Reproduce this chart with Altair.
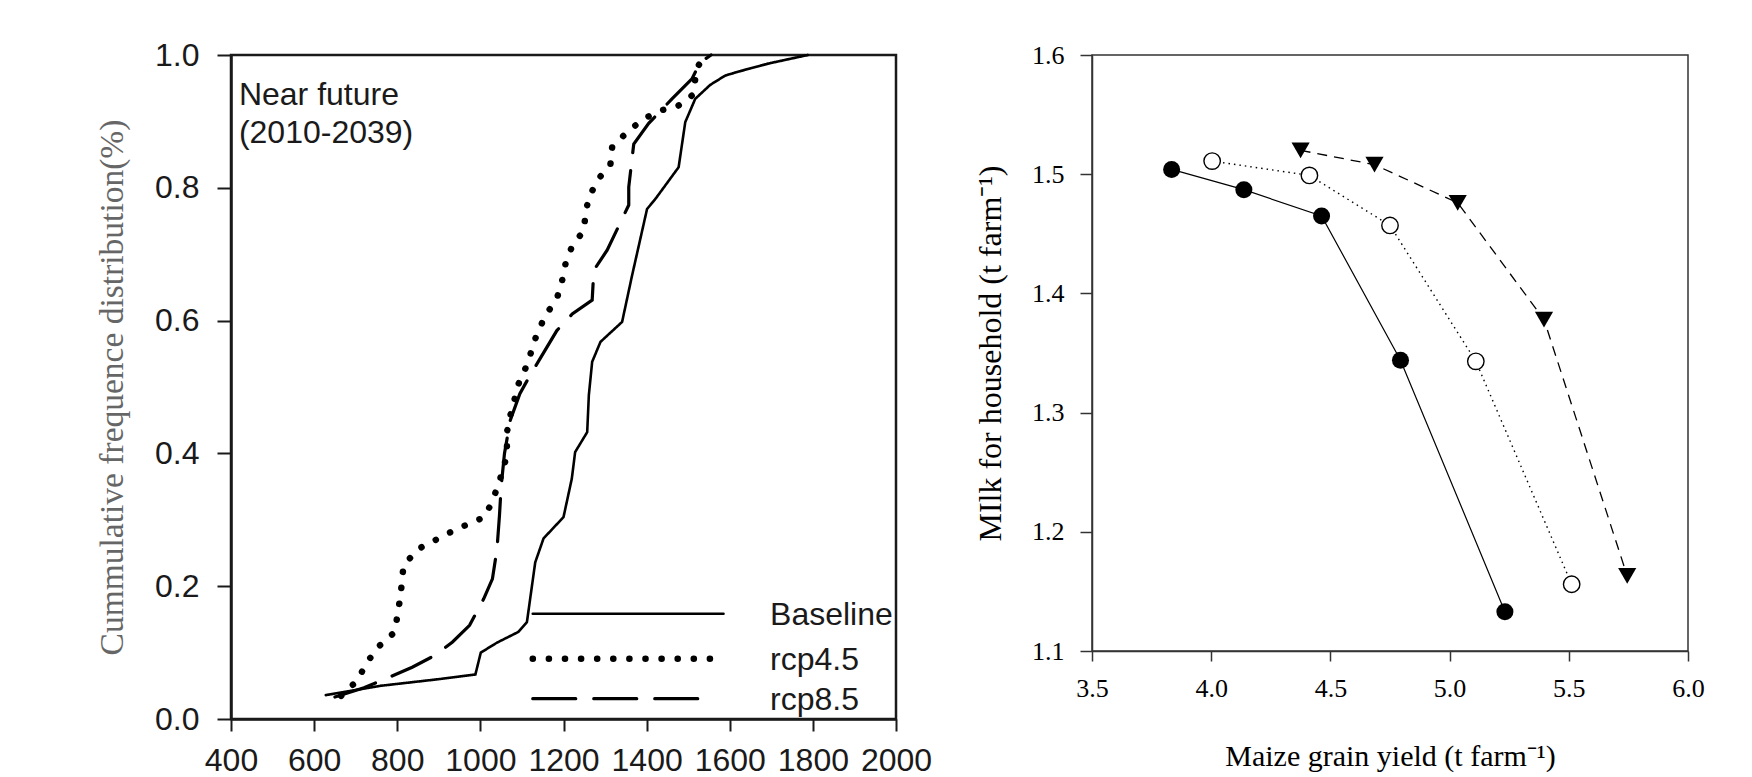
import altair as alt
import pandas as pd

# ---------------- Left panel: cumulative frequency distribution ----------------
series_names = ["Baseline", "rcp4.5", "rcp8.5"]

base_x = [628, 760, 900, 988, 1001, 1040, 1091, 1112, 1132, 1152, 1200, 1220, 1228,
          1257, 1261, 1269, 1289, 1341, 1365, 1401, 1422, 1477, 1493, 1517, 1553,
          1589, 1621, 1692, 1788]
base_y = [0.036, 0.050, 0.060, 0.067, 0.100, 0.115, 0.131, 0.146, 0.236, 0.272, 0.304,
          0.362, 0.402, 0.432, 0.488, 0.538, 0.568, 0.598, 0.668, 0.768, 0.784, 0.831,
          0.899, 0.934, 0.955, 0.969, 0.975, 0.987, 1.0]

r45_x = [665, 704, 725, 753, 794, 808, 815, 850, 930, 972, 1010, 1028, 1044, 1064, 1064,
         1072, 1092, 1112, 1136, 1157, 1184, 1196, 1205, 1220, 1249, 1253, 1261, 1285,
         1313, 1317, 1353, 1393, 1437, 1477, 1509, 1516, 1521, 1532, 1548]
r45_y = [0.035, 0.058, 0.083, 0.108, 0.131, 0.186, 0.231, 0.256, 0.282, 0.294, 0.304,
         0.327, 0.354, 0.397, 0.432, 0.457, 0.505, 0.533, 0.580, 0.608, 0.633, 0.658,
         0.686, 0.711, 0.736, 0.761, 0.786, 0.814, 0.836, 0.861, 0.884, 0.904, 0.917,
         0.924, 0.939, 0.960, 0.980, 0.992, 1.0]

r85_x = [650, 720, 781, 836, 891, 933, 974, 1008, 1029, 1040, 1046, 1050, 1058, 1072,
         1095, 1120, 1184, 1221, 1269, 1273, 1305, 1357, 1357, 1369, 1405, 1461, 1509,
         1529, 1555]
r85_y = [0.033, 0.047, 0.063, 0.078, 0.096, 0.116, 0.141, 0.181, 0.211, 0.256, 0.307,
         0.350, 0.400, 0.450, 0.490, 0.518, 0.585, 0.610, 0.631, 0.676, 0.706, 0.774,
         0.801, 0.866, 0.897, 0.934, 0.964, 0.989, 1.0]

left_x_ticks = [400, 600, 800, 1000, 1200, 1400, 1600, 1800, 2000]
left_y_ticks = [0.0, 0.2, 0.4, 0.6, 0.8, 1.0]

# in-plot legend keys (data units of the left panel)
legend_x1 = [1126, 1126, 1126]
legend_x2 = [1585, 1585, 1539]
legend_y = [0.1586, 0.0908, 0.0306]
legend_label_x = 1697
annot_text = ["Near future", "(2010-2039)"]

# ---------------- Right panel: milk vs maize yield ----------------
right_series = ["A", "B", "C"]
yield_a = [3.834, 4.137, 4.463, 4.794, 5.232]
milk_a = [1.504, 1.487, 1.465, 1.344, 1.133]
yield_b = [4.004, 4.412, 4.750, 5.110, 5.512]
milk_b = [1.511, 1.499, 1.457, 1.343, 1.156]
yield_c = [4.375, 4.685, 5.034, 5.396, 5.745]
milk_c = [1.520, 1.508, 1.476, 1.378, 1.163]

right_x_ticks = [3.5, 4.0, 4.5, 5.0, 5.5, 6.0]
right_y_ticks = [1.1, 1.2, 1.3, 1.4, 1.5, 1.6]

# ---------------- build tables ----------------
rows = []
for name, xs, ys in zip(series_names, [base_x, r45_x, r85_x], [base_y, r45_y, r85_y]):
    for i, (a, b) in enumerate(zip(xs, ys)):
        rows.append({"series": name, "x": a, "y": b, "i": i})
cdf = pd.DataFrame(rows)

leg = pd.DataFrame({"series": series_names, "x1": legend_x1, "x2": legend_x2,
                    "y": legend_y, "lx": [legend_label_x] * 3})
annot = pd.DataFrame({"x": [419], "y": [0.925], "t": ["\n".join(annot_text)]})

rrows = []
for name, xs, ys in zip(right_series, [yield_a, yield_b, yield_c], [milk_a, milk_b, milk_c]):
    for i, (a, b) in enumerate(zip(xs, ys)):
        rrows.append({"series": name, "x": a, "y": b, "i": i})
rdf = pd.DataFrame(rrows)

SANS = "Liberation Sans"
SERIF = "Liberation Serif"
INK = "#1a1a1a"

xs_left = alt.Scale(domain=[400, 2000], nice=False, zero=False)
ys_left = alt.Scale(domain=[0, 1], nice=False, zero=False)

left_x_axis = alt.Axis(values=left_x_ticks, format="d", labelFont=SANS, labelFontSize=32,
                       labelColor=INK, tickSize=12, tickWidth=2, tickColor=INK,
                       domainColor=INK, domainWidth=2.5, labelPadding=14, grid=False,
                       labelFlush=False, labelOverlap=False)
left_y_axis = alt.Axis(values=left_y_ticks, format=".1f", labelFont=SANS, labelFontSize=32,
                       labelColor=INK, tickSize=14, tickWidth=2, tickColor=INK,
                       domainColor=INK, domainWidth=2.5, labelPadding=18, grid=False,
                       title="Cummulative frequence distribution(%)", titleFont=SERIF,
                       titleFontSize=33.5, titleFontWeight="normal", titleColor="#666666",
                       titlePadding=25, labelFlush=False)

# line style per series: (strokeWidth, strokeDash)
styles = {
    "Baseline": (2.6, [1, 0]),
    "rcp4.5": (6.5, [0.1, 16]),
    "rcp8.5": (3.2, [43, 18]),
}

left_layers = []
for k, name in enumerate(series_names):
    w, d = styles[name]
    enc_x = alt.X("x:Q", scale=xs_left, axis=left_x_axis, title=None)
    enc_y = alt.Y("y:Q", scale=ys_left, axis=left_y_axis)
    ln = alt.Chart(cdf).transform_filter(alt.datum.series == name).mark_line(
        strokeCap="round", color="black", strokeWidth=w, strokeDash=d).encode(
        x=enc_x, y=enc_y, order="i:Q")
    rl = alt.Chart(leg).transform_filter(alt.datum.series == name).mark_rule(
        strokeCap="round", color="black", strokeWidth=w, strokeDash=d).encode(
        x=alt.X("x1:Q", scale=xs_left), x2="x2:Q", y=alt.Y("y:Q", scale=ys_left))
    left_layers += [ln, rl]

leg_text = alt.Chart(leg).mark_text(align="left", baseline="middle", font=SANS,
                                    fontSize=32, color=INK, dy=1).encode(
    x=alt.X("lx:Q", scale=xs_left),
    y=alt.Y("y:Q", scale=ys_left),
    text="series:N",
)

annot_mark = alt.Chart(annot).mark_text(align="left", baseline="alphabetic", font=SANS,
                                        fontSize=32, lineHeight=38, color=INK,
                                        lineBreak="\n").encode(
    x=alt.X("x:Q", scale=xs_left),
    y=alt.Y("y:Q", scale=ys_left),
    text="t:N",
)

left = alt.layer(*left_layers, leg_text, annot_mark).properties(
    width=665, height=664,
    view=alt.ViewBackground(stroke=INK, strokeWidth=2.5),
)

# ---------------- right chart ----------------
xs_right = alt.Scale(domain=[3.5, 6.0], nice=False, zero=False)
ys_right = alt.Scale(domain=[1.1, 1.6], nice=False, zero=False)
AX = "#333333"

right_x_axis = alt.Axis(values=right_x_ticks, format=".1f", labelFont=SERIF,
                        labelFontSize=26, labelColor="black", tickSize=10, tickWidth=1.5,
                        tickColor=AX, domainColor=AX, domainWidth=1.5, labelPadding=14,
                        grid=False, title="Maize grain yield (t farm\u207b\u00b9)",
                        titleFont=SERIF, titleFontSize=30, titleFontWeight="normal",
                        titleColor="black", titlePadding=40, labelFlush=False)
right_y_axis = alt.Axis(values=right_y_ticks, format=".1f", labelFont=SERIF,
                        labelFontSize=26, labelColor="black", tickSize=12, tickWidth=1.5,
                        tickColor=AX, domainColor=AX, domainWidth=1.5, labelPadding=16,
                        grid=False, title="MIlk for household (t farm\u207b\u00b9)",
                        titleFont=SERIF, titleFontSize=32, titleFontWeight="normal",
                        titleColor="black", titlePadding=24, labelFlush=False)

rbase = alt.Chart(rdf).encode(
    x=alt.X("x:Q", scale=xs_right, axis=right_x_axis),
    y=alt.Y("y:Q", scale=ys_right, axis=right_y_axis),
    order="i:Q",
)

line_a = rbase.transform_filter(alt.datum.series == "A").mark_line(
    color="black", strokeWidth=1.2)
line_b = rbase.transform_filter(alt.datum.series == "B").mark_line(
    color="black", strokeWidth=1.4, strokeDash=[1.5, 4])
line_c = rbase.transform_filter(alt.datum.series == "C").mark_line(
    color="black", strokeWidth=1.3, strokeDash=[10, 7])

pts_a = rbase.transform_filter(alt.datum.series == "A").mark_point(
    shape="circle", filled=True, color="black", size=290, opacity=1)
pts_b = rbase.transform_filter(alt.datum.series == "B").mark_point(
    shape="circle", filled=True, fill="white", stroke="black", strokeWidth=1.4,
    size=270, opacity=1)
pts_c = rbase.transform_filter(alt.datum.series == "C").mark_point(
    shape="triangle-down", filled=True, color="black", size=330, opacity=1)

right = alt.layer(line_a, line_b, line_c, pts_a, pts_b, pts_c).properties(
    width=596, height=596,
    view=alt.ViewBackground(stroke=AX, strokeWidth=1.5),
)

chart = alt.hconcat(left, right, spacing=40).properties(
    padding={"left": 86, "top": 29, "right": 10, "bottom": 0},
    background="white",
).configure_view(fill="white")

chart.save("out.html", embed_options={"renderer": "svg", "actions": False})
